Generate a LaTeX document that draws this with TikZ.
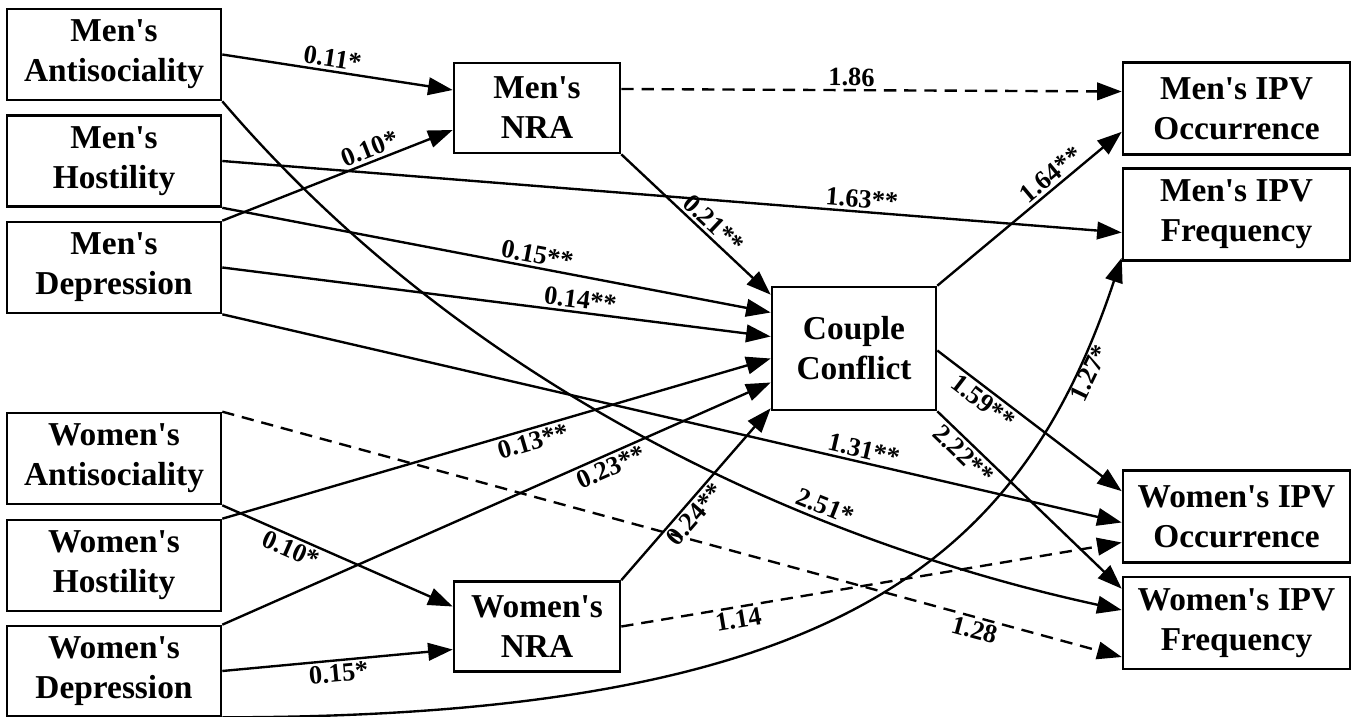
\documentclass[tikz,border=0pt]{standalone}
\usepackage{fontspec}
\newfontfamily\serifbf{Liberation Serif}
\usetikzlibrary{calc}
\usetikzlibrary{arrows.meta}

\begin{document}
\begin{tikzpicture}[
    x=0.02cm, y=-0.02cm,
    a/.style={
        line width=1.35pt,
        color=black,
    },
    l/.style={
        a,-{Triangle[length=14pt,width=10pt]}
    },
    d/.style={
        l,dash pattern=on 7pt off 4.5pt
    },
    m/.style={
        draw=black, line width=1.5pt, fill=white,
        inner sep=0pt, align=center,
        minimum width=4.28cm, minimum height=1.82cm,
        font=\serifbf\bfseries\fontsize{19}{22.8}\selectfont
    },
    n/.style={
        m, minimum width=3.32cm, minimum height=1.8cm
    },
    c/.style={
        m, minimum width=3.28cm, minimum height=2.46cm
    },
    o/.style={
        m, minimum width=4.54cm, minimum height=1.84cm
    },
    e/.style={
        sloped,color=black,inner sep=1.5pt,
        font=\serifbf\bfseries\fontsize{15}{17}\selectfont
    }
]
    \useasboundingbox (0,0) rectangle (1357,717);

    \node [m] (ma) at ( 114,  54.5) {Men's\\Antisociality};
    \node [m] (mh) at ( 114, 161  ) {Men's\\Hostility};
    \node [m] (md) at ( 114, 267.5) {Men's\\Depression};
    \node [m] (wa) at ( 114, 458.5) {Women's\\Antisociality};
    \node [m] (wh) at ( 114, 565.5) {Women's\\Hostility};
    \node [m,minimum height=1.8cm] (wd) at ( 114, 671) {Women's\\Depression};
    \node [n] (mnra) at ( 537, 108  ) {Men's\\NRA};
    \node [n] (wnra) at ( 537, 626.5) {Women's\\NRA};
    \node [c] (cc)   at ( 854, 348.5) {Couple\\Conflict};
    \node [o] (mocc) at (1236.5, 108.5) {Men's IPV\\Occurrence};
    \node [o] (mfrq) at (1236.5, 214.5) {Men's IPV\\Frequency};
    \node [o] (wocc) at (1236.5, 516.5) {Women's IPV\\Occurrence};
    \node [o] (wfrq) at (1236.5, 623  ) {Women's IPV\\Frequency};

    \draw (ma.east) -- ($(mnra.west)+(0,-18)$) [l] node [e,above,pos=0.47] {0.11*};
    \draw (md.north east) -- ($(mnra.west)+(0,22)$) [l] node [e,above,pos=0.66] {0.10*};
    \draw ($(mnra.east)+(0,-19)$) -- ($(mocc.west)+(0,-17)$) [d] node [e,above,pos=0.46] {1.86};
    \draw (mh.east) -- ($(mfrq.west)+(0,18)$) [l] node [e,above,pos=0.71] {1.63**};
    \draw (mh.south east) -- ($(cc.west)+(0,-36)$) [l] node [e,above,pos=0.57] {0.15**};
    \draw (md.east) -- ($(cc.west)+(0,-12)$) [l] node [e,above,pos=0.65] {0.14**};
    \draw (md.south east) -- ($(wocc.west)+(0,6)$) [l] node [e,above,pos=0.71] {1.31**};
    \draw (ma.south east) .. controls +(239,280) and +(-323,-70) .. ($(wfrq.west)+(0,-13)$) [l] node [e,above,pos=0.69] {2.51*};

    \draw (mnra.south east) -- ($(cc.north west)+(0,9)$) [l] node [e,above,pos=0.56] {0.21**};
    \draw (cc.north east) -- ($(mocc.south west)+(0,-24)$) [l] node [e,above,pos=0.66] {1.64**};
    \draw ($(cc.east)+(0,2)$) -- ($(wocc.north west)+(0,22)$) [l] node [e,below,pos=0.29] {1.59**};
    \draw (cc.south east) -- ($(wfrq.north west)+(0,13)$) [l] node [e,below,pos=0.19] {2.22**};

    \draw (wa.north east) -- ($(wfrq.west)+(0,34)$) [d] node [e,below,pos=0.84] {1.28};
    \draw (wa.south east) -- ($(wnra.west)+(0,-20)$) [l] node [e,below,pos=0.32] {0.10*};
    \draw (wh.north east) -- ($(cc.west)+(0,10)$) [l] node [e,below,pos=0.56] {0.13**};
    \draw (wd.north east) -- ($(cc.west)+(0,34)$) [l] node [e,below,pos=0.70] {0.23**};
    \draw (wd.east) -- ($(wnra.west)+(0,23)$) [l] node [e,below,pos=0.5] {0.15*};
    \draw (wd.south east) .. controls +(620,0) and +(-100,300) .. ($(mfrq.south west)+(0,-4)$) [l] node [e,below,pos=0.87] {1.27*};
    \draw (wnra.north east) -- ($(cc.south west)+(0,-3)$) [l] node [e,below,pos=0.43] {0.24**};
    \draw (wnra.east) -- ($(wocc.west)+(0,26)$) [d] node [e,below,pos=0.23] {1.14};

\end{tikzpicture}
\end{document}
